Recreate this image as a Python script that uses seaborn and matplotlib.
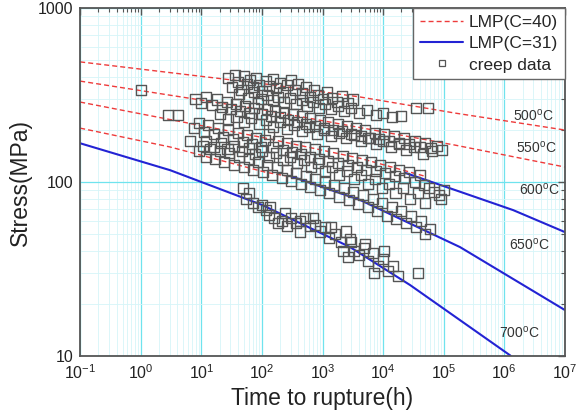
import numpy as np
import pandas as pd
import matplotlib
matplotlib.use("Agg")
import matplotlib.pyplot as plt
import seaborn as sns
from matplotlib.lines import Line2D
from matplotlib.ticker import LogLocator, NullFormatter, FixedLocator

# LMP curves (time to rupture in h, stress in MPa)
red_500_t = [0.1, 113, 4170, 1.54e5, 1e7]
red_500_s = [490, 366, 308, 249, 199]
red_550_t = [0.1, 113, 1.54e5, 1e7]
red_550_s = [380, 259, 163, 122]
red_600_t = [0.1, 113, 4170, 4.9e4]
red_600_s = [288, 179, 137, 108]
red_650_t = [0.1, 3.05, 113, 315]
red_650_s = [204, 159, 114, 107]
blue_600_t = [2.3e4, 1.54e5, 1.4e6, 1e7]
blue_600_s = [113, 90, 69, 51.6]
blue_650_t = [300, 4170, 1.86e5, 1e7]
blue_650_s = [108, 78.9, 42.3, 18.4]
blue_700_t = [0.1, 3.05, 101, 2850, 2.79e4, 1.25e6, 1.6e6]
blue_700_s = [167, 117, 73.8, 42.3, 25.6, 10.1, 9.0]

# creep data points, grouped roughly by temperature band
t_short = [1.0, 2.8, 4.1]
s_short = [338, 242, 242]

t500 = [28, 32, 36, 40, 45, 50, 56, 63, 70, 80, 90, 100, 115, 130, 150, 170, 195, 225,
        260, 300, 350, 400, 460, 530, 620, 720, 850, 1000, 1200, 1450, 1750, 2100, 2600,
        3200, 35000, 55000]
s500 = [395, 350, 412, 378, 340, 405, 365, 385, 352, 398, 362, 335, 380, 355, 392, 345, 372, 330,
        360, 385, 340, 365, 325, 352, 310, 340, 318, 300, 330, 305, 290, 312, 285,
        298, 266, 266]

t_fill_a = [42, 58, 75, 95, 120, 150, 185, 230, 290, 360, 450, 560, 700, 880, 1100, 1400,
            1800, 2300, 3000, 4000, 5500, 7500, 10000, 14000, 20000]
s_fill_a = [320, 305, 330, 300, 315, 295, 310, 288, 302, 280, 295, 272, 288, 268, 280, 262,
            275, 255, 265, 250, 258, 242, 248, 236, 240]

t550 = [8, 10, 12, 15, 18, 22, 26, 31, 37, 44, 52, 62, 73, 86, 100, 120, 140, 165, 195, 230,
        270, 320, 380, 450, 530, 630, 750, 900, 1050, 1250, 1500, 1800, 2100, 2500, 3000, 3600,
        4300, 5100, 6100, 7300, 8700, 10500, 12500, 15000, 18000, 22000, 27000, 33000, 40000,
        50000, 62000, 78000, 95000]
s550 = [300, 285, 310, 278, 298, 270, 290, 262, 282, 255, 275, 248, 268, 285, 245, 262, 240, 255, 235, 250,
        228, 245, 222, 238, 215, 232, 210, 226, 205, 220, 200, 215, 196, 210, 190, 205,
        185, 198, 180, 192, 176, 188, 172, 184, 168, 178, 165, 172, 160,
        168, 156, 162, 152]

t_fill_b = [20, 28, 38, 50, 66, 88, 115, 150, 200, 260, 340, 450, 600, 800, 1050, 1400, 1850,
            2450, 3250, 4300, 5700, 7600, 10000, 13500, 18000, 24000, 32000, 45000, 65000]
s_fill_b = [245, 230, 238, 222, 232, 215, 226, 208, 220, 202, 212, 196, 206, 190, 198, 184, 192,
            178, 186, 172, 180, 166, 172, 160, 165, 152, 158, 145, 150]

t600 = [6.5, 7.5, 9, 11, 13, 16, 19, 23, 28, 33, 40, 48, 57, 68, 80, 95, 112, 130, 155, 185,
        220, 260, 310, 370, 440, 520, 620, 740, 880, 1050, 1250, 1500, 1800, 2150, 2600, 3100,
        3700, 4400, 5300, 6300, 7500, 9000, 10800, 13000, 15500, 18500, 22000, 27000, 33000,
        40000, 48000, 58000, 70000, 85000, 100000, 90000]
s600 = [172, 205, 218, 195, 212, 188, 205, 182, 198, 176, 192, 170, 186, 165, 180, 160, 175, 190, 158, 172,
        152, 168, 148, 162, 145, 158, 140, 154, 136, 150, 132, 146, 128, 142, 125, 138,
        122, 134, 118, 130, 115, 126, 112, 122, 108, 118, 105, 114, 100,
        110, 96, 92, 88, 84, 90, 80]

t_fill_c = [12, 16, 21, 27, 35, 46, 60, 78, 100, 130, 170, 220, 290, 380, 500, 650, 850, 1100,
            1450, 1900, 2500, 3300, 4300, 5600, 7300, 9500, 12500, 16000, 21000, 28000, 37000, 50000]
s_fill_c = [172, 160, 168, 155, 162, 150, 156, 144, 150, 140, 146, 134, 140, 128, 134, 122, 128, 116,
            122, 110, 116, 104, 110, 98, 104, 92, 98, 86, 92, 80, 86, 76]

t650 = [9, 10.5, 12, 14, 17, 20, 24, 29, 35, 42, 50, 60, 72, 86, 103, 123, 148, 178, 213, 255,
        305, 365, 440, 525, 630, 760, 910, 1090, 1300, 1560, 1870, 2250, 2700, 3200, 3900, 4700,
        5600, 6700, 8000, 9600, 11500, 13800, 16500, 20000, 24000, 29000, 35000, 42000, 50000, 60000]
s650 = [150, 162, 140, 155, 135, 150, 130, 146, 125, 140, 122, 135, 118, 130, 114, 126, 110, 122, 106, 118,
        102, 112, 98, 108, 94, 104, 90, 100, 86, 96, 82, 92, 79, 88, 75, 84,
        72, 80, 68, 76, 64, 72, 61, 68, 58, 64, 55, 60, 50, 54]

t700 = [48, 55, 62, 70, 85, 100, 115, 135, 160, 185, 215, 260, 300, 360, 430, 520, 620, 750, 900, 1100,
        1300, 1600, 2000, 2400, 2800, 3300, 4000, 4800, 5700, 6800, 8200, 9800, 12000, 14500, 17500,
        38000, 2200, 2600, 130, 240, 420, 700, 1400, 3000, 5000, 7000, 10500]
s700 = [92, 80, 86, 76, 72, 74, 69, 72, 62, 58, 60, 56, 62, 58, 60, 62, 56, 57, 52, 55,
        48, 50, 45, 52, 47, 40, 38, 42, 35, 39, 33, 36, 31, 33, 29,
        30, 40, 37, 65, 66, 52, 62, 55, 45, 44, 30, 40]

# temperature labels
temp_labels = ['500$^{o}$C', '550$^{o}$C', '600$^{o}$C', '650$^{o}$C', '700$^{o}$C']
temp_label_t = [3.0e6, 3.35e6, 3.75e6, 2.57e6, 1.8e6]
temp_label_s = [242, 157, 91, 43.5, 13.6]

x_exponents = [-1, 0, 1, 2, 3, 4, 5, 6, 7]
y_ticks = [10, 100, 1000]
y_ticklabels = ['10', '100', '1000']

sns.set_theme(style="white")
plt.rcParams['font.family'] = ['Liberation Sans', 'DejaVu Sans']
plt.rcParams['mathtext.default'] = 'regular'

fig, ax = plt.subplots(figsize=(5.77, 4.19), dpi=100)
fig.subplots_adjust(left=0.139, right=0.979, top=0.981, bottom=0.150)
ax.set_xscale('log')
ax.set_yscale('log')

red = '#ee3b3b'
blue = '#2323d4'
red_ls = (0, (3.6, 2.2))

# LMP(C=40) curves
for tt, ss in [(red_500_t, red_500_s), (red_550_t, red_550_s),
               (red_600_t, red_600_s), (red_650_t, red_650_s)]:
    sns.lineplot(x=tt, y=ss, ax=ax, color=red, lw=1.0, linestyle=red_ls,
                 sort=False, estimator=None)

# LMP(C=31) curves
for tt, ss in [(blue_600_t, blue_600_s), (blue_650_t, blue_650_s), (blue_700_t, blue_700_s)]:
    sns.lineplot(x=tt, y=ss, ax=ax, color=blue, lw=1.5,
                 sort=False, estimator=None)

pts = pd.DataFrame({
    'time': t_short + t500 + t_fill_a + t550 + t_fill_b + t600 + t_fill_c + t650 + t700,
    'stress': s_short + s500 + s_fill_a + s550 + s_fill_b + s600 + s_fill_c + s650 + s700,
})
sns.scatterplot(data=pts, x='time', y='stress', ax=ax, marker='s', s=52,
                facecolors='none', edgecolors='#555555', linewidth=1.0, zorder=3)

for lab, tt, ss in zip(temp_labels, temp_label_t, temp_label_s):
    ax.text(tt, ss, lab, fontsize=10, ha='center', va='center', color='#333333')

ax.set_xlim(0.1, 1e7)
ax.set_ylim(10, 1000)

ax.xaxis.set_major_locator(FixedLocator([10.0 ** e for e in x_exponents]))
ax.set_xticklabels(['$10^{%d}$' % e for e in x_exponents])
ax.xaxis.set_minor_locator(LogLocator(base=10, subs=np.arange(2, 10) * 1.0, numticks=100))
ax.xaxis.set_minor_formatter(NullFormatter())
ax.set_yticks(y_ticks)
ax.set_yticklabels(y_ticklabels)
ax.yaxis.set_minor_locator(LogLocator(base=10, subs=np.arange(2, 10) * 1.0, numticks=100))
ax.yaxis.set_minor_formatter(NullFormatter())

ax.grid(True, which='major', color='#6fe3ee', lw=0.9)
ax.grid(True, which='minor', color='#d6f5f9', lw=0.6)
ax.set_axisbelow(True)

ax.tick_params(which='both', direction='in', top=True, right=True, color='#555555',
               labelsize=11.5, labelcolor='#222222', pad=5)
ax.tick_params(which='major', length=5, width=1.0)
ax.tick_params(which='minor', length=3, width=0.8)
for sp in ax.spines.values():
    sp.set_color('#555555')
    sp.set_linewidth(1.3)

ax.set_xlabel('Time to rupture(h)', fontsize=16.5, color='#222222')
ax.set_ylabel('Stress(MPa)', fontsize=16.5, color='#222222')

handles = [
    Line2D([], [], color=red, lw=1.0, linestyle=red_ls),
    Line2D([], [], color=blue, lw=1.5),
    Line2D([], [], color='#555555', marker='s', markersize=5, markerfacecolor='none',
           linestyle='none', markeredgewidth=0.9),
]
labels = ['LMP(C=40)', 'LMP(C=31)', 'creep data']
leg = ax.legend(handles, labels, loc='upper right', borderaxespad=0, frameon=True,
                fancybox=False, edgecolor='#666666', framealpha=1, fontsize=12.5,
                handlelength=2.5, handletextpad=0.3, labelspacing=0.35, borderpad=0.4)
leg.get_frame().set_linewidth(1.0)

fig.savefig('out.png', dpi=100)
